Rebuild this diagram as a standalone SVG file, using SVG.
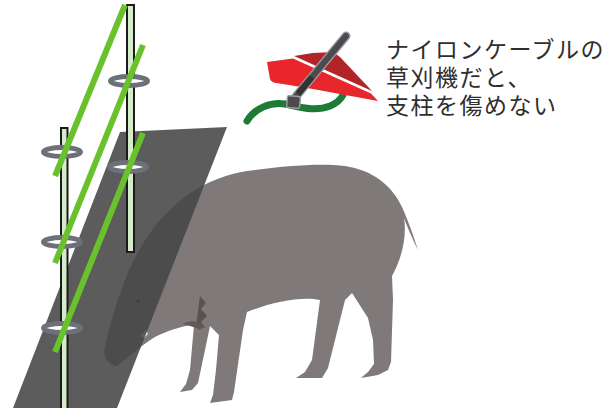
<svg xmlns="http://www.w3.org/2000/svg" width="612" height="408" viewBox="0 0 612 408">
  <style>
    .pole { fill: #d6ebc9; stroke: #1b1b1b; stroke-width: 2; }
    .ring { fill: #ffffff; stroke: #6e7079; stroke-width: 5; }
    .wire { stroke: #69c22c; stroke-width: 6; stroke-linecap: butt; fill: none; }
    .label { font-family: "Liberation Sans", "Noto Sans CJK JP", sans-serif; font-size: 23px; letter-spacing: 1.5px; fill: #2e2e2e; }
  </style>
  <rect width="612" height="408" fill="#ffffff"/>

  <!-- wild boar -->
  <g id="boar">
    <path fill="#7f7979" d="M104,352 C108,330 116,302 128,272 C142,242 160,212 195,190 C215,178 235,172 255,170 C285,166 320,163 345,166 C372,170 392,185 402,207 C406,216 411,228 418,250 C412,238 407,226 404,218 C407,236 402,258 392,276 L393,300 L391,362 L388,370 L378,375 L361,378 L368,372 L374,364 L373,340 L368,318 L352,293 L345,300 L328,368 L322,378 L296,378 L305,372 L312,360 L320,300 C300,296 270,303 247,312 L243,330 L234,392 L232,400 L210,403 L213,395 L216,370 L219,335 L210,326 L205,350 L198,383 L192,390 L180,392 L186,384 L190,370 L194,325 C180,326 165,332 155,337 C140,346 128,358 117,366 C110,366 105,360 104,352 Z"/>
    <path fill="#5a5252" d="M200,296 L206,303 L201,309 L207,316 L201,322 L205,328 L196,326 Z"/>
    <path fill="#625a5a" d="M183,324 C190,320 197,320 205,326 L200,330 C195,327 190,326 183,324 Z"/>
    <path fill="none" stroke="#8a8282" stroke-width="1" d="M152,260 C158,252 166,247 178,243"/>
    <circle cx="138" cy="301" r="1.8" fill="#1a1a1a"/>
    <path fill="#eeeeee" d="M140,336 L146,330 L148,334 L144,338 Z"/>
  </g>

  <!-- dark sheet hanging from the fence -->
  <g id="sheet">
    <path fill="#474647" fill-opacity="0.88" d="M120,132 L227,127 L117,408 L13,408 Z"/>
  </g>

  <!-- fence posts with insulator rings -->
  <g id="post-left">
    <rect class="pole" x="61" y="128" width="6.5" height="290"/>
    <ellipse class="ring" cx="62" cy="152" rx="18.5" ry="4.5"/>
    <ellipse class="ring" cx="62" cy="242" rx="18.5" ry="4.5"/>
    <ellipse class="ring" cx="62" cy="328" rx="18.5" ry="4.5"/>
  </g>
  <g id="post-right">
    <rect class="pole" x="127" y="5" width="7" height="247"/>
    <ellipse class="ring" cx="129" cy="81" rx="18.5" ry="4.5"/>
    <ellipse class="ring" cx="128" cy="167" rx="18.5" ry="4.5"/>
  </g>

  <!-- electric fence wires -->
  <g id="wires">
    <line class="wire" x1="125" y1="5" x2="55" y2="176"/>
    <line class="wire" x1="143" y1="45" x2="55" y2="263"/>
    <line class="wire" x1="143" y1="133" x2="55" y2="352"/>
  </g>

  <!-- grass trimmer icon -->
  <g id="trimmer">
    <path fill="none" stroke="#1e7b36" stroke-width="7" stroke-linecap="round" d="M247,121 C255,108 270,102 285,104 C300,107 315,112 330,106 C337,103 341,99 343,95"/>
    <path fill="#e8262b" d="M267,62 L293,58.5 L371,93.5 L378,101 C350,96 310,88 276,83 Q271,82 270,79 Z"/>
    <path fill="#b22428" d="M294,56 L313,53 L333,52 L340,57 L372,91 Z"/>
    <line x1="346" y1="36" x2="293" y2="100" stroke="#9b9b9e" stroke-width="9" stroke-linecap="round"/>
    <line x1="346" y1="36" x2="293" y2="100" stroke="#4b4b4f" stroke-width="6" stroke-linecap="round"/>
    <line x1="312" y1="77" x2="298" y2="94" stroke="#333336" stroke-width="6"/>
    <rect x="287" y="96" width="13" height="12" rx="2" fill="#4b4b4f" stroke="#9b9b9e" stroke-width="1.5" transform="rotate(5 293.5 102)"/>
  </g>

  <g id="caption">
    <text class="label" x="386" y="58">ナイロンケーブルの</text>
    <text class="label" x="386" y="86">草刈機だと、</text>
    <text class="label" x="386" y="114">支柱を傷めない</text>
  </g>
</svg>
